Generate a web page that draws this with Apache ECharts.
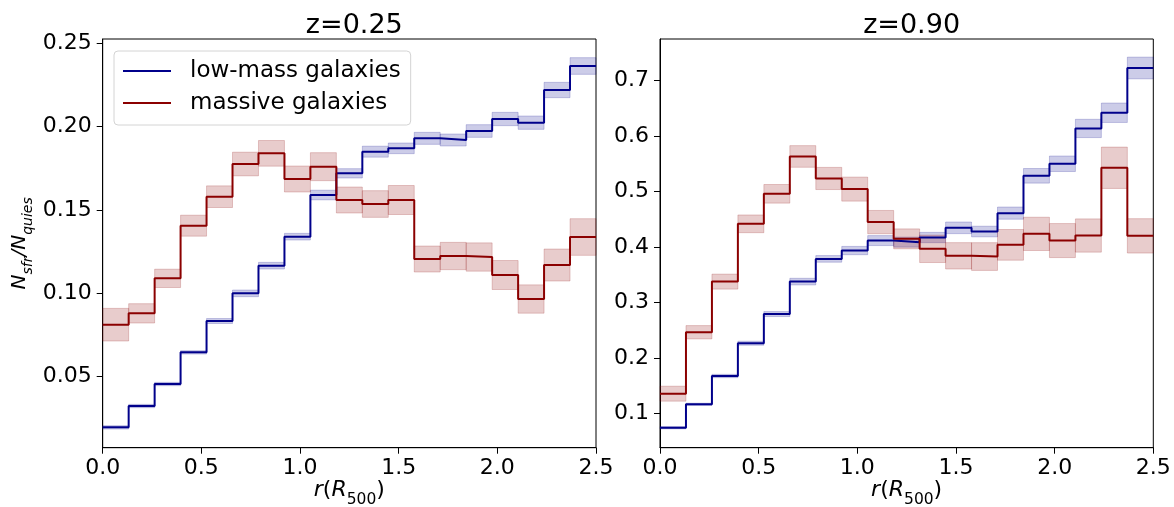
<!DOCTYPE html>
<html>
<head>
<meta charset="utf-8">
<script src="https://cdn.jsdelivr.net/npm/echarts@6/dist/echarts.min.js"></script>
<style>
html,body{margin:0;padding:0;background:#fff;}
#chart{width:1174px;height:507px;}
</style>
</head>
<body>
<div id="chart"></div>
<script>
// bin edges in r/R500 (19 bins from 0 to 2.5)
const binEdges = [0, 0.1316, 0.2632, 0.3947, 0.5263, 0.6579, 0.7895, 0.9211, 1.0526, 1.1842,
  1.3158, 1.4474, 1.5789, 1.7105, 1.8421, 1.9737, 2.1053, 2.2368, 2.3684, 2.5];

const panelTitles = ['z=0.25', 'z=0.90'];
const seriesNames = ['low-mass galaxies', 'massive galaxies'];

// z = 0.25
const lowMassZ025 = [0.0196, 0.0324, 0.0456, 0.0646, 0.0834, 0.1000, 0.1166, 0.1340, 0.1590, 0.1720,
  0.1850, 0.1870, 0.1930, 0.1920, 0.1974, 0.2046, 0.2024, 0.2220, 0.2364];
const lowMassErrZ025 = [0.0010, 0.0010, 0.0010, 0.0010, 0.0015, 0.0020, 0.0020, 0.0020, 0.0029, 0.0028,
  0.0033, 0.0032, 0.0036, 0.0036, 0.0038, 0.0040, 0.0040, 0.0046, 0.0050];
const massiveZ025 = [0.0812, 0.0880, 0.1090, 0.1406, 0.1580, 0.1776, 0.1840, 0.1686, 0.1760, 0.1560,
  0.1536, 0.1560, 0.1206, 0.1224, 0.1218, 0.1110, 0.0966, 0.1170, 0.1338];
const massiveErrZ025 = [0.0098, 0.0058, 0.0055, 0.0063, 0.0065, 0.0071, 0.0077, 0.0078, 0.0084, 0.0078,
  0.0080, 0.0087, 0.0078, 0.0082, 0.0085, 0.0087, 0.0085, 0.0096, 0.0110];

// z = 0.90
const lowMassZ090 = [0.0740, 0.1162, 0.1673, 0.2264, 0.2790, 0.3375, 0.3785, 0.3935, 0.4115, 0.4087,
  0.4170, 0.4345, 0.4278, 0.4610, 0.5283, 0.5500, 0.6137, 0.6420, 0.7227];
const lowMassErrZ090 = [0.0020, 0.0020, 0.0030, 0.0036, 0.0045, 0.0060, 0.0060, 0.0075, 0.0090, 0.0090,
  0.0093, 0.0105, 0.0096, 0.0110, 0.0132, 0.0140, 0.0165, 0.0175, 0.0196];
const massiveZ090 = [0.1354, 0.2462, 0.3375, 0.4417, 0.4958, 0.5632, 0.5235, 0.5043, 0.4448, 0.4146,
  0.3966, 0.3840, 0.3827, 0.4038, 0.4236, 0.4115, 0.4206, 0.5428, 0.4200];
const massiveErrZ090 = [0.0135, 0.0120, 0.0135, 0.0160, 0.0168, 0.0195, 0.0200, 0.0217, 0.0210, 0.0180,
  0.0247, 0.0238, 0.0250, 0.0277, 0.0300, 0.0307, 0.0300, 0.0373, 0.0310];

const xTicks = [0.0, 0.5, 1.0, 1.5, 2.0, 2.5];

const FONT = 'DejaVu Sans';
const BLUE = '#00008b', RED = '#8b0000';
const BLUE_BAND = 'rgba(0,0,139,0.2)', RED_BAND = 'rgba(139,0,0,0.2)';

function stepData(vals) {
  return binEdges.map((e, i) => [e, vals[Math.min(i, vals.length - 1)]]);
}
function bandData(vals, errs) {
  return vals.map((v, i) => [binEdges[i], binEdges[i + 1], v - errs[i], v + errs[i]]);
}
function bandSeries(name, idx, vals, errs, fill) {
  return {
    type: 'custom', name: name + ' band', xAxisIndex: idx, yAxisIndex: idx, z: 1,
    silent: true,
    encode: { x: [0, 1], y: [2, 3] },
    data: bandData(vals, errs),
    renderItem: function (params, api) {
      const p0 = api.coord([api.value(0), api.value(3)]);
      const p1 = api.coord([api.value(1), api.value(2)]);
      return {
        type: 'rect',
        shape: { x: p0[0], y: p0[1], width: p1[0] - p0[0], height: p1[1] - p0[1] },
        style: { fill: fill, stroke: fill, lineWidth: 1 }
      };
    }
  };
}
function lineSeries(name, idx, vals, color) {
  return {
    type: 'line', name: name, xAxisIndex: idx, yAxisIndex: idx, z: 3,
    step: 'end', symbol: 'none', showSymbol: false, silent: true,
    lineStyle: { color: color, width: 2 }, itemStyle: { color: color },
    data: stepData(vals)
  };
}

const grids = [
  { left: 102.7, top: 39, width: 493.3, height: 408.7 },
  { left: 660, top: 39, width: 493.3, height: 408.7 }
];

function xAxisFor(i) {
  return {
    type: 'value', gridIndex: i, min: xTicks[0], max: xTicks[xTicks.length - 1], interval: 0.5,
    name: '{i|r}{n|(}{i|R}{s|500}{n|)}', nameLocation: 'middle', nameGap: 28, nameMoveOverlap: false,
    nameTextStyle: {
      rich: {
        i: { fontFamily: FONT, fontSize: 22, fontStyle: 'italic', color: '#000', verticalAlign: 'top', height: 30 },
        n: { fontFamily: FONT, fontSize: 22, color: '#000', verticalAlign: 'top', height: 30 },
        s: { fontFamily: FONT, fontSize: 15.5, color: '#000', verticalAlign: 'top', padding: [9, 0, 0, 0], height: 30 }
      }
    },
    axisLine: { show: true, onZero: false, lineStyle: { color: '#000', width: 1 } },
    axisTick: { show: true, length: 6, lineStyle: { color: '#000', width: 1 } },
    axisLabel: { fontFamily: FONT, fontSize: 22, color: '#000', margin: 10,
      formatter: v => v.toFixed(1) },
    splitLine: { show: false }
  };
}

const option = {
  animation: false,
  backgroundColor: '#fff',
  title: [
    { text: panelTitles[0], left: 349.3, top: 7, textAlign: 'center',
      textStyle: { fontFamily: FONT, fontSize: 27, fontWeight: 'normal', color: '#000' } },
    { text: panelTitles[1], left: 906.6, top: 7, textAlign: 'center',
      textStyle: { fontFamily: FONT, fontSize: 27, fontWeight: 'normal', color: '#000' } }
  ],
  legend: {
    data: seriesNames, orient: 'vertical', left: 114, top: 51,
    padding: [7, 10, 9, 9], itemGap: 6, itemWidth: 48, itemHeight: 2, icon: 'rect',
    backgroundColor: 'rgba(255,255,255,0.85)', borderColor: '#d4d4d4', borderWidth: 1, borderRadius: 4,
    selectedMode: false,
    textStyle: { fontFamily: FONT, fontSize: 23, color: '#000', padding: [0, 0, 0, 14], lineHeight: 26 }
  },
  grid: grids.map(g => Object.assign({ show: true, borderColor: '#000', borderWidth: 1,
    backgroundColor: 'transparent', containLabel: false, outerBoundsMode: 'none' }, g)),
  xAxis: [xAxisFor(0), xAxisFor(1)],
  yAxis: [
    {
      type: 'value', gridIndex: 0, min: 0.0074, max: 0.2526, splitNumber: 5, minInterval: 0.05, maxInterval: 0.05,
      name: '{n|N}{s|sfr}{n|/N}{s|quies}', nameLocation: 'middle', nameGap: 60, nameRotate: 90, nameMoveOverlap: false,
      nameTextStyle: {
        rich: {
          n: { fontFamily: FONT, fontSize: 20, fontStyle: 'italic', color: '#000', verticalAlign: 'top', height: 28 },
          s: { fontFamily: FONT, fontSize: 14, fontStyle: 'italic', color: '#000', verticalAlign: 'top', padding: [9, 0, 0, 0], height: 28 }
        }
      },
      axisLine: { show: true, lineStyle: { color: '#000', width: 1 } },
      axisTick: { show: true, length: 6, lineStyle: { color: '#000', width: 1 } },
      axisLabel: { fontFamily: FONT, fontSize: 22, color: '#000', margin: 11, showMinLabel: false, showMaxLabel: false,
        formatter: v => v.toFixed(2) },
      splitLine: { show: false }
    },
    {
      type: 'value', gridIndex: 1, min: 0.038, max: 0.775, splitNumber: 7, minInterval: 0.1, maxInterval: 0.1,
      axisLine: { show: true, lineStyle: { color: '#000', width: 1 } },
      axisTick: { show: true, length: 6, lineStyle: { color: '#000', width: 1 } },
      axisLabel: { fontFamily: FONT, fontSize: 22, color: '#000', margin: 11, showMinLabel: false, showMaxLabel: false,
        formatter: v => v.toFixed(1) },
      splitLine: { show: false }
    }
  ],
  series: [
    bandSeries(seriesNames[0], 0, lowMassZ025, lowMassErrZ025, BLUE_BAND),
    lineSeries(seriesNames[0], 0, lowMassZ025, BLUE),
    bandSeries(seriesNames[1], 0, massiveZ025, massiveErrZ025, RED_BAND),
    lineSeries(seriesNames[1], 0, massiveZ025, RED),
    bandSeries(seriesNames[0], 1, lowMassZ090, lowMassErrZ090, BLUE_BAND),
    lineSeries(seriesNames[0], 1, lowMassZ090, BLUE),
    bandSeries(seriesNames[1], 1, massiveZ090, massiveErrZ090, RED_BAND),
    lineSeries(seriesNames[1], 1, massiveZ090, RED)
  ]
};

const chart = echarts.init(document.getElementById('chart'), null, { renderer: 'canvas' });
chart.setOption(option);
</script>
</body>
</html>
